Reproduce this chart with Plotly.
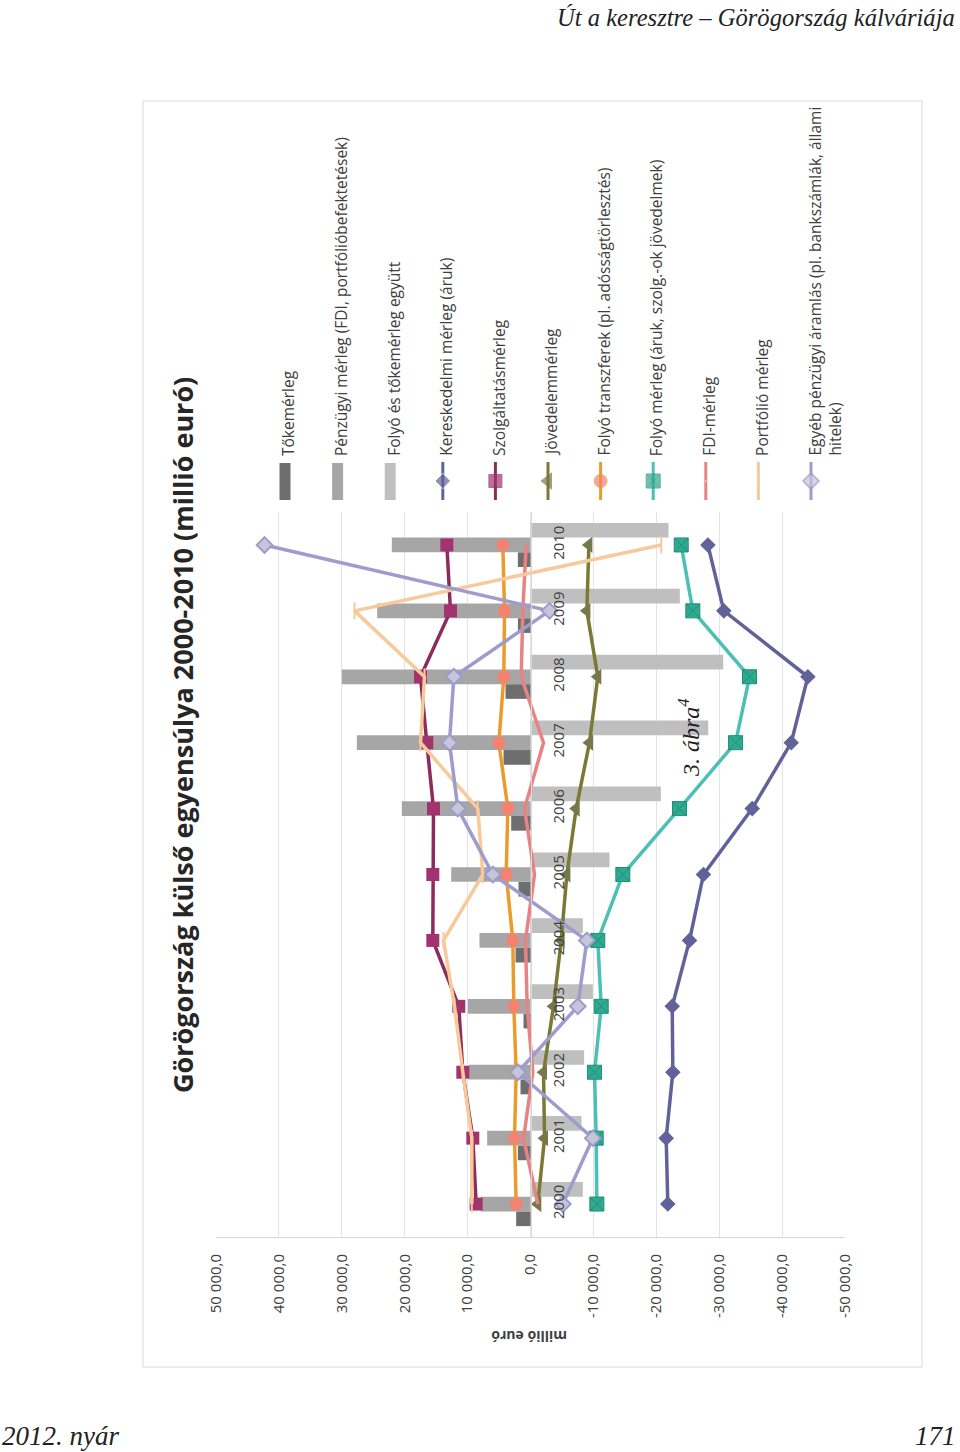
import plotly.graph_objects as go

W, H = 960, 1452

# ---------------- data (millió euró) ----------------
years = ["2000", "2001", "2002", "2003", "2004", "2005", "2006", "2007", "2008", "2009", "2010"]

tokemerleg = [2280, 2010, 1590, 1110, 2380, 1910, 3070, 4290, 3970, 2000, 2010]
penzugyi = [7900, 6890, 9800, 9960, 8110, 12610, 20460, 27610, 30000, 24380, 22050]
folyo_es_toke = [-8320, -8110, -8530, -9910, -8320, -12560, -20720, -28250, -30640, -23740, -21940]

kereskedelmi = [-21830, -21570, -22630, -22530, -25280, -27500, -35250, -41450, -44100, -30740, -28200]
szolgaltatas = [8640, 9170, 10760, 11400, 15530, 15530, 15420, 16490, 17490, 12720, 13300]
jovedelem = [-1160, -2230, -2070, -3660, -4880, -5780, -7260, -9380, -10700, -8960, -9280]
transzferek = [2280, 2540, 2280, 2650, 2810, 3870, 3600, 5030, 4240, 4130, 4400]
folyo_merleg = [-10550, -10440, -10180, -11240, -10700, -14680, -23690, -32600, -34820, -25810, -23960]
fdi = [-1160, 1100, -370, 530, 800, -640, 950, -2070, 1480, 1220, 690]
portfolio = [9330, 9330, 10760, 12080, 13830, 7580, 8380, 17490, 16850, 27980, -20780]
egyeb = [-5140, -9910, 2010, -7520, -8960, 5990, 11550, 12880, 12190, -3020, 42290]

tick_vals = [50000, 40000, 30000, 20000, 10000, 0, -10000, -20000, -30000, -40000, -50000]
tick_text = ["50 000,0", "40 000,0", "30 000,0", "20 000,0", "10 000,0", "0,0",
             "-10 000,0", "-20 000,0", "-30 000,0", "-40 000,0", "-50 000,0"]

names = [
    "Tőkemérleg",
    "Pénzügyi mérleg (FDI, portfólióbefektetések)",
    "Folyó és tőkemérleg együtt",
    "Kereskedelmi mérleg (áruk)",
    "Szolgáltatásmérleg",
    "Jövedelemmérleg",
    "Folyó transzferek (pl. adósságtörlesztés)",
    "Folyó mérleg (áruk, szolg.-ok jövedelmek)",
    "FDI-mérleg",
    "Portfólió mérleg",
    "Egyéb pénzügyi áramlás (pl. bankszámlák, állami<br>hitelek)",
]

# ---------------- styles ----------------
bars = [
    (names[0], tokemerleg, "#6e6e6e"),
    (names[1], penzugyi, "#a6a6a6"),
    (names[2], folyo_es_toke, "#bfbfbf"),
]
lines = [
    (names[3], kereskedelmi, "#62629b", dict(symbol="diamond", size=12, color="#62629b")),
    (names[4], szolgaltatas, "#8b2c5c", dict(symbol="square", size=13, color="#a3336f")),
    (names[5], jovedelem, "#7a7a35", dict(symbol="triangle-left", size=14, color="#77774c")),
    (names[6], transzferek, "#eb9b2c", dict(symbol="circle", size=13, color="#f38370")),
    (names[7], folyo_merleg, "#4cc0b5", dict(symbol="square-x", size=14, color="#2eaa90",
                                               line=dict(color="#1f8f78", width=1))),
    (names[8], fdi, "#e88383", None),
    (names[9], portfolio, "#f8c99a", dict(symbol="line-ns", size=12, color="#f8c99a",
                                           line=dict(color="#f8c99a", width=2))),
    (names[10], egyeb, "#9e9ccc", dict(symbol="diamond", size=12, color="#c6c6da",
                                        line=dict(color="#9e9ccc", width=2))),
]

TXT = "#404040"
FONT = "Open Sans"

# plot area in pixels
PL, PR, PT, PB = 216, 845, 512, 1237


def px(x):
    return x / W


def py(y):
    return 1 - y / H


fig = go.Figure()

for name, vals, col in bars:
    fig.add_trace(go.Bar(x=vals, y=years, orientation="h", name=name,
                         marker=dict(color=col, line=dict(width=0))))

for name, vals, col, mk in lines:
    if mk is None:
        fig.add_trace(go.Scatter(x=vals, y=years, mode="lines", name=name,
                                 line=dict(color=col, width=3.5)))
    else:
        fig.add_trace(go.Scatter(x=vals, y=years, mode="lines+markers", name=name,
                                 line=dict(color=col, width=3.5), marker=mk))

# ---------------- legend (rotated, drawn by hand) ----------------
annotations = []
shapes = []
leg_x0, leg_dx = 285, 52.6
for i, nm in enumerate(names):
    cx = leg_x0 + i * leg_dx
    if i < 3:
        shapes.append(dict(type="rect", xref="paper", yref="paper",
                           x0=px(cx - 5.5), x1=px(cx + 5.5), y0=py(500), y1=py(463),
                           fillcolor=bars[i][2], line=dict(width=0)))
    else:
        _, _, col, mk = lines[i - 3]
        m = dict(mk) if mk is not None else dict(size=1, color=col)
        sizes = [0, m.get("size", 1), 0]
        m["size"] = sizes
        fig.add_trace(go.Scatter(x=[cx, cx, cx], y=[462, 481, 500], mode="lines+markers",
                                 xaxis="x2", yaxis="y2", showlegend=False, hoverinfo="skip",
                                 line=dict(color=col, width=3), marker=m))
    annotations.append(dict(text=nm, x=px(cx - 10), y=py(458), xref="paper", yref="paper",
                            xanchor="left", yanchor="bottom", textangle=-90, showarrow=False,
                            align="left", font=dict(family=FONT, size=15.5, color=TXT)))

# title & labels
annotations += [
    dict(text="<b>Görögország külső egyensúlya 2000-2010 (millió euró)</b>",
         x=px(182), y=py(735), xref="paper", yref="paper", textangle=-90, showarrow=False,
         xanchor="center", yanchor="middle", font=dict(family=FONT, size=27, color="#262626")),
    dict(text="<b>millió euró</b>", x=px(529), y=py(1337), xref="paper", yref="paper",
         textangle=180, showarrow=False, xanchor="center", yanchor="middle",
         font=dict(family=FONT, size=14, color=TXT)),
    dict(text="3. ábra<sup>4</sup>", x=px(689), y=py(738), xref="paper", yref="paper",
         textangle=-90, showarrow=False, xanchor="center", yanchor="middle",
         font=dict(family="Liberation Serif", size=24, color="#222222", style="italic")),
    dict(text="Út a keresztre – Görögország kálváriája", x=px(957), y=py(18), xref="paper",
         yref="paper", showarrow=False, xanchor="right", yanchor="middle",
         font=dict(family="Liberation Serif", size=24.6, color="#222222", style="italic")),
    dict(text="2012. nyár", x=px(0), y=py(1436), xref="paper", yref="paper", showarrow=False,
         xanchor="left", yanchor="middle",
         font=dict(family="Liberation Serif", size=27, color="#222222", style="italic")),
    dict(text="171", x=px(958), y=py(1436), xref="paper", yref="paper", showarrow=False,
         xanchor="right", yanchor="middle",
         font=dict(family="Liberation Serif", size=27, color="#222222", style="italic")),
]

# chart area border
shapes.append(dict(type="rect", xref="paper", yref="paper", x0=px(143), x1=px(922),
                   y0=py(1367), y1=py(101), line=dict(color="#d9d9d9", width=1),
                   fillcolor="rgba(0,0,0,0)", layer="below"))

fig.update_layout(
    width=W, height=H,
    margin=dict(l=0, r=0, t=0, b=0, pad=0),
    paper_bgcolor="white", plot_bgcolor="rgba(0,0,0,0)",
    showlegend=False,
    barmode="group", bargap=0.33, bargroupgap=0,
    annotations=annotations, shapes=shapes,
    xaxis=dict(domain=[px(PL), px(PR)], range=[50000, -50000], tickvals=tick_vals,
               ticktext=tick_text, tickangle=-90, showgrid=True, gridcolor="#e4e4e4",
               zeroline=False, showline=True, linecolor="#d9d9d9", ticks="outside",
               ticklen=10, tickcolor="rgba(0,0,0,0)", anchor="y", automargin=False,
               tickfont=dict(family=FONT, size=15, color=TXT), fixedrange=True),
    yaxis=dict(domain=[py(PB), py(PT)], type="category", categoryorder="array",
               categoryarray=years, range=[-0.5, 10.5], anchor="free",
               position=px((PL + PR) / 2), side="right", showgrid=False, showline=True,
               linecolor="#d9d9d9", ticks="outside", ticklen=14,
               tickcolor="rgba(0,0,0,0)", tickangle=-90, automargin=False,
               tickfont=dict(family=FONT, size=15, color=TXT), fixedrange=True),
    xaxis2=dict(domain=[0, 1], range=[0, W], visible=False, anchor="y2", fixedrange=True),
    yaxis2=dict(domain=[0, 1], range=[H, 0], visible=False, anchor="x2", fixedrange=True),
)

fig.write_html("out.html", config={"displayModeBar": False},
               post_script="document.body.style.margin='0';")
